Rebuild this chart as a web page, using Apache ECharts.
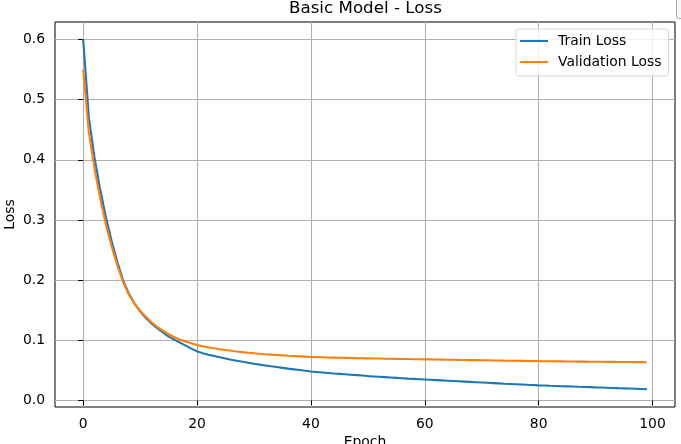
<!DOCTYPE html>
<html lang="en">
<head>
	<meta charset="UTF-8">
	<title>Basic Model - Loss</title>
	<script src="https://cdn.jsdelivr.net/npm/echarts@6/dist/echarts.min.js"></script>
	<style>
		html, body { margin: 0; padding: 0; background: #fff; }
		#chart { width: 681px; height: 444px; }
	</style>
</head>
<body>
<div id="chart"></div>
<script>
	// values, one per epoch (0..99)
	var trainLoss = [
		0.600, 0.470, 0.403, 0.350, 0.304, 0.265, 0.230, 0.200, 0.178, 0.161,
		0.148, 0.137, 0.128, 0.120, 0.113, 0.106, 0.101, 0.096, 0.091, 0.086,
		0.0815, 0.0785, 0.0760, 0.0738, 0.0716, 0.0696, 0.0677, 0.0659, 0.0642, 0.0626,
		0.0610, 0.0595, 0.0581, 0.0567, 0.0554, 0.0541, 0.0528, 0.0516, 0.0504, 0.0492,
		0.0480, 0.0472, 0.0464, 0.0456, 0.0448, 0.0441, 0.0434, 0.0427, 0.0420, 0.0413,
		0.0404, 0.0398, 0.0392, 0.0386, 0.0380, 0.0374, 0.0368, 0.0362, 0.0357, 0.0352,
		0.0347, 0.0342, 0.0337, 0.0332, 0.0327, 0.0322, 0.0317, 0.0312, 0.0307, 0.0302,
		0.0297, 0.0292, 0.0287, 0.0282, 0.0277, 0.0273, 0.0269, 0.0264, 0.0259, 0.0255,
		0.0250, 0.0247, 0.0243, 0.0240, 0.0236, 0.0233, 0.0230, 0.0226, 0.0223, 0.0220,
		0.0216, 0.0213, 0.0210, 0.0207, 0.0203, 0.0200, 0.0197, 0.0194, 0.0190, 0.0187
	];
	var valLoss = [
		0.550, 0.445, 0.385, 0.335, 0.292, 0.256, 0.224, 0.197, 0.176, 0.161,
		0.149, 0.139, 0.130, 0.122, 0.116, 0.110, 0.105, 0.101, 0.098, 0.095,
		0.0920, 0.0900, 0.0882, 0.0866, 0.0851, 0.0837, 0.0825, 0.0813, 0.0802, 0.0792,
		0.0783, 0.0775, 0.0767, 0.0760, 0.0754, 0.0748, 0.0742, 0.0737, 0.0732, 0.0727,
		0.0722, 0.0719, 0.0716, 0.0713, 0.0711, 0.0709, 0.0707, 0.0705, 0.0703, 0.0701,
		0.0699, 0.0697, 0.0695, 0.0693, 0.0692, 0.0690, 0.0688, 0.0687, 0.0685, 0.0684,
		0.0682, 0.0681, 0.0679, 0.0678, 0.0676, 0.0675, 0.0673, 0.0672, 0.0670, 0.0669,
		0.0667, 0.0666, 0.0664, 0.0663, 0.0661, 0.0660, 0.0658, 0.0657, 0.0655, 0.0654,
		0.0652, 0.0651, 0.0650, 0.0649, 0.0648, 0.0647, 0.0646, 0.0645, 0.0644, 0.0643,
		0.0642, 0.0641, 0.0640, 0.0640, 0.0639, 0.0638, 0.0637, 0.0636, 0.0636, 0.0635
	];
	var xTicks = [0, 20, 40, 60, 80, 100];
	var yTicks = [0, 0.1, 0.2, 0.3, 0.4, 0.5, 0.6];
	var seriesNames = ['Train Loss', 'Validation Loss'];

	var FONT = 'DejaVu Sans';

	// epoch number is the array index
	function toPoints(arr) {
		return arr.map(function (v, i) { return [i, v]; });
	}

	var chart = echarts.init(document.getElementById('chart'));
	chart.setOption({
		animation: false,
		title: {
			text: 'Basic Model - Loss',
			left: 289,
			top: 0,
			padding: 0,
			textStyle: { fontFamily: FONT, fontSize: 16.7, fontWeight: 'normal', color: '#000', lineHeight: 18 }
		},
		legend: {
			orient: 'vertical',
			left: 516,
			top: 29,
			padding: [4, 7, 6, 4],
			itemWidth: 28,
			itemHeight: 2,
			itemGap: 5,
			icon: 'rect',
			backgroundColor: 'rgba(255,255,255,0.8)',
			borderColor: '#d6d6d6',
			borderWidth: 1,
			borderRadius: 3,
			textStyle: { fontFamily: FONT, fontSize: 13.9, color: '#000', lineHeight: 16, padding: [0, 0, 0, 5] },
			data: seriesNames
		},
		grid: {
			left: 55,
			top: 22,
			right: 6,
			bottom: 37,
			containLabel: false,
			outerBoundsMode: 'none',
			show: true,
			borderColor: '#000',
			borderWidth: 1,
			backgroundColor: 'transparent'
		},
		xAxis: {
			type: 'value',
			min: -4.95,
			max: 103.95,
			name: 'Epoch',
			nameLocation: 'middle',
			nameGap: 28,
			nameMoveOverlap: false,
			nameTextStyle: { fontFamily: FONT, fontSize: 13.9, color: '#000' },
			axisLine: { show: false },
			axisTick: { show: true, inside: false, length: 5, customValues: xTicks, lineStyle: { color: '#000', width: 1 } },
			axisLabel: { customValues: xTicks, margin: 10, fontFamily: FONT, fontSize: 13.9, color: '#000' },
			splitLine: { show: true, lineStyle: { color: '#b0b0b0', width: 1.1 } }
		},
		yAxis: {
			type: 'value',
			min: -0.011,
			max: 0.629,
			name: 'Loss',
			nameLocation: 'middle',
			nameGap: 38,
			nameMoveOverlap: false,
			nameTextStyle: { fontFamily: FONT, fontSize: 13.9, color: '#000' },
			axisLine: { show: false },
			axisTick: { show: true, inside: false, length: 5, customValues: yTicks, lineStyle: { color: '#000', width: 1 } },
			axisLabel: {
				customValues: yTicks, margin: 10, fontFamily: FONT, fontSize: 13.9, color: '#000',
				formatter: function (v) { return v.toFixed(1); }
			},
			splitLine: { show: true, lineStyle: { color: '#b0b0b0', width: 1.1 } }
		},
		graphic: [
			{
				type: 'rect',
				shape: { x: 676.5, y: -4, width: 12, height: 22.5, r: 2 },
				style: { fill: '#f7f7f7', stroke: '#aaaaaa', lineWidth: 1 }
			}
		],
		series: [
			{
				name: seriesNames[0],
				type: 'line',
				showSymbol: false,
				color: '#1f77b4',
				lineStyle: { width: 2.1, color: '#1f77b4' },
				data: toPoints(trainLoss)
			},
			{
				name: seriesNames[1],
				type: 'line',
				showSymbol: false,
				color: '#ff7f0e',
				lineStyle: { width: 2.1, color: '#ff7f0e' },
				data: toPoints(valLoss)
			}
		]
	});
</script>
</body>
</html>
